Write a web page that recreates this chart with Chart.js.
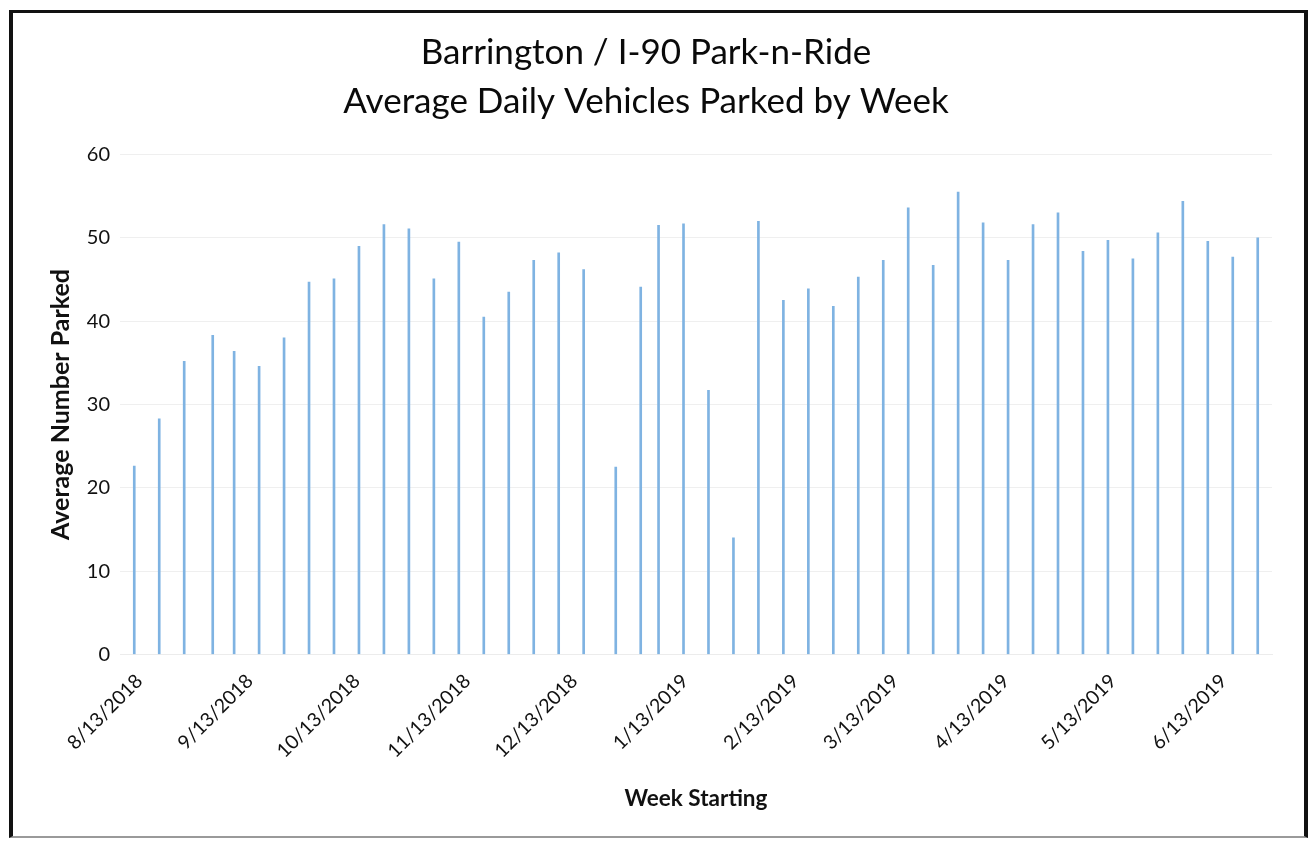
<!DOCTYPE html>
<html>
<head>
<meta charset="utf-8">
<title>Barrington / I-90 Park-n-Ride</title>
<script src="https://cdn.jsdelivr.net/npm/chart.js@4.4.1/dist/chart.umd.min.js"></script>
<style>
  html, body { margin: 0; padding: 0; background: #ffffff; }
  #wrap { position: relative; width: 1311px; height: 842px; overflow: hidden; }
  #c { position: absolute; left: 0; top: 0; }
  #frame {
    position: absolute; left: 9px; top: 10px; width: 1299px; height: 828px;
    box-sizing: border-box; pointer-events: none;
    border-left: 4px solid #111; border-top: 3px solid #111;
    border-right: 4px solid #111; border-bottom: 2px solid #9a9a9a;
  }
</style>
</head>
<body>
<div id="wrap">
  <canvas id="c" width="1311" height="842"></canvas>
  <div id="frame"></div>
</div>
<script>
// Week start dates (first collection day of each week)
const weekStarting = [
  '8/13/2018', '8/20/2018', '8/27/2018', '9/4/2018', '9/10/2018', '9/17/2018',
  '9/24/2018', '10/1/2018', '10/8/2018', '10/15/2018', '10/22/2018', '10/29/2018',
  '11/5/2018', '11/12/2018', '11/19/2018', '11/26/2018', '12/3/2018', '12/10/2018',
  '12/17/2018', '12/26/2018', '1/2/2019', '1/7/2019', '1/14/2019', '1/21/2019',
  '1/28/2019', '2/4/2019', '2/11/2019', '2/18/2019', '2/25/2019', '3/4/2019',
  '3/11/2019', '3/18/2019', '3/25/2019', '4/1/2019', '4/8/2019', '4/15/2019',
  '4/22/2019', '4/29/2019', '5/6/2019', '5/13/2019', '5/20/2019', '5/27/2019',
  '6/3/2019', '6/10/2019', '6/17/2019', '6/24/2019'
];

// Average daily vehicles parked for each week
const avgParked = [
  22.6, 28.3, 35.2, 38.3, 36.4, 34.6,
  38.0, 44.7, 45.1, 49.0, 51.6, 51.1,
  45.1, 49.5, 40.5, 43.5, 47.3, 48.2,
  46.2, 22.5, 44.1, 51.5, 51.7, 31.7,
  14.0, 52.0, 42.5, 43.9, 41.8, 45.3,
  47.3, 53.6, 46.7, 55.5, 51.8, 47.3,
  51.6, 53.0, 48.4, 49.7, 47.5, 50.6,
  54.4, 49.6, 47.7, 50.0
];

// Monthly tick labels on the date axis
const tickDates = [
  '8/13/2018', '9/13/2018', '10/13/2018', '11/13/2018', '12/13/2018', '1/13/2019',
  '2/13/2019', '3/13/2019', '4/13/2019', '5/13/2019', '6/13/2019'
];

const yTicks = { min: 0, max: 60, step: 10 };

// Day offset of an m/d/yyyy string from the first week
function toUTC(s) {
  const [m, d, y] = s.split('/').map(Number);
  return Date.UTC(y, m - 1, d);
}
const origin = toUTC(weekStarting[0]);
function dayIndex(s) {
  return Math.round((toUTC(s) - origin) / 86400000);
}

const points = weekStarting.map((d, i) => ({ x: dayIndex(d), y: avgParked[i] }));
const FONT = 'Lato, "Open Sans", "Liberation Sans", sans-serif';
const INK = '#111111';

new Chart(document.getElementById('c'), {
  type: 'bar',
  data: {
    datasets: [{
      data: points,
      backgroundColor: '#7fb3e2',
      borderWidth: 0,
      barThickness: 2
    }]
  },
  options: {
    responsive: false,
    animation: false,
    devicePixelRatio: 1,
    layout: { padding: { left: 20, right: 39, top: 0, bottom: 20 } },
    plugins: {
      legend: { display: false },
      tooltip: { enabled: false },
      title: {
        display: true,
        text: ['Barrington / I-90 Park-n-Ride', 'Average Daily Vehicles Parked by Week'],
        color: '#0a0a0a',
        font: { family: FONT, size: 35, weight: 'normal', lineHeight: 1.38 },
        padding: { top: 29, bottom: 29 }
      }
    },
    scales: {
      x: {
        type: 'linear',
        min: -4,
        max: 319,
        offset: false,
        grid: { display: false, drawTicks: false },
        border: { display: true, color: '#ececec' },
        afterBuildTicks: (scale) => {
          scale.ticks = tickDates.map(d => ({ value: dayIndex(d) }));
        },
        afterFit: (scale) => { scale.height = 167.5; },
        ticks: {
          autoSkip: false,
          minRotation: 45,
          maxRotation: 45,
          padding: 15,
          labelOffset: 5,
          color: INK,
          font: { family: FONT, size: 19.5 },
          callback: (value, index) => tickDates[index]
        },
        title: {
          display: true,
          text: 'Week Starting',
          color: INK,
          font: { family: FONT, size: 22.5, weight: 'bold' },
          padding: { top: 0, bottom: 10 }
        }
      },
      y: {
        min: yTicks.min,
        max: yTicks.max,
        grid: { color: '#efefef', drawTicks: false },
        border: { display: false },
        afterFit: (scale) => { scale.width = 100; },
        ticks: {
          stepSize: yTicks.step,
          padding: 10,
          color: INK,
          font: { family: FONT, size: 20 }
        },
        title: {
          display: true,
          text: 'Average Number Parked',
          color: INK,
          font: { family: FONT, size: 25, weight: 'bold' },
          padding: { top: 26, bottom: 0 }
        }
      }
    }
  }
});
</script>
</body>
</html>
